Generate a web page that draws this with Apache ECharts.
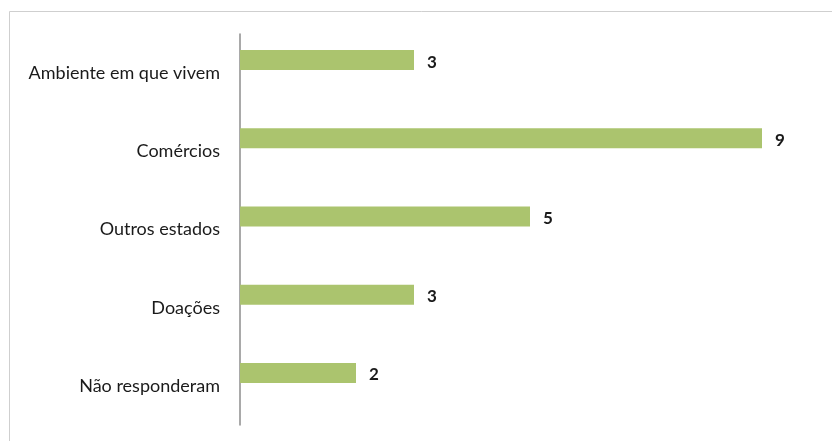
<!DOCTYPE html>
<html>
<head>
<meta charset="utf-8">
<script src="https://cdn.jsdelivr.net/npm/echarts@6/dist/echarts.min.js"></script>
<style>
html,body{margin:0;padding:0;background:#fff;}
#main{width:832px;height:441px;}
</style>
</head>
<body>
<div id="main"></div>
<script>
var categories = ['Ambiente em que vivem', 'Comércios', 'Outros estados', 'Doações', 'Não responderam'];
var values = [3, 9, 5, 3, 2];

var chart = echarts.init(document.getElementById('main'), null, {renderer: 'canvas'});
var font = 'Lato, "Open Sans", sans-serif';
chart.setOption({
  animation: false,
  backgroundColor: '#ffffff',
  graphic: [{
    type: 'rect',
    shape: {x: 9.5, y: 11.5, width: 900, height: 600},
    style: {fill: 'none', stroke: '#cfcfcf', lineWidth: 1},
    silent: true
  }],
  grid: {left: 240, right: 12, top: 34, bottom: 16, containLabel: false},
  xAxis: {
    type: 'value', min: 0, max: 10, show: false
  },
  yAxis: {
    type: 'category',
    data: categories,
    inverse: true,
    axisLine: {show: true, lineStyle: {color: '#8c8c8c', width: 1.5}},
    axisTick: {show: false},
    axisLabel: {color: '#1a1a1a', fontSize: 18, fontFamily: font, margin: 20, padding: [4, 0, 0, 0]}
  },
  series: [{
    type: 'bar',
    data: values,
    barWidth: 20,
    barGap: '30%',
    itemStyle: {color: '#abc46e'},
    label: {show: true, position: 'right', distance: 13, offset: [0, 2], color: '#1a1a1a', fontSize: 17, fontWeight: 'bold', fontFamily: font}
  }, {
    type: 'bar',
    data: values.map(function(){ return 0; }),
    barWidth: 20,
    silent: true,
    itemStyle: {color: 'rgba(0,0,0,0)'},
    label: {show: false}
  }]
});
</script>
</body>
</html>
